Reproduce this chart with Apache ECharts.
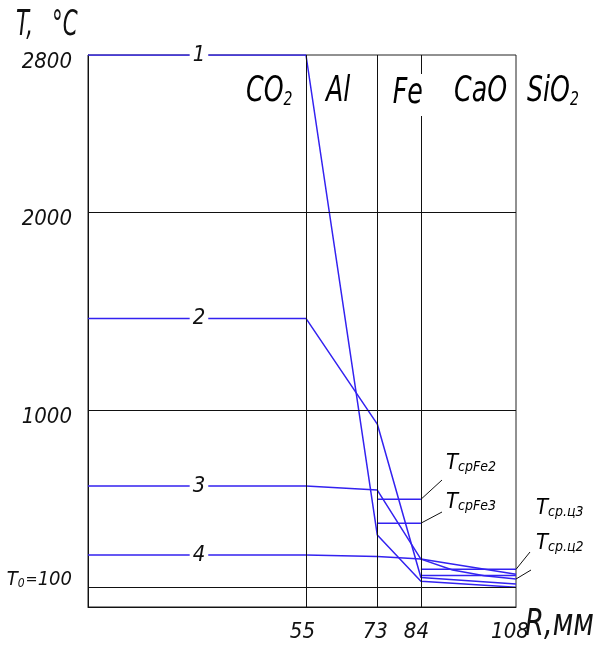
<!DOCTYPE html>
<html>
<head>
<meta charset="utf-8">
<script src="https://cdn.jsdelivr.net/npm/echarts@6/dist/echarts.min.js"></script>
<style>
html, body { margin: 0; padding: 0; background: #fff; }
#chart { width: 597px; height: 645px; }
</style>
</head>
<body>
<div id="chart"></div>
<script>
// layer boundaries, R in mm
let layer_bounds = [55, 73, 84];
let x_ticks = [55, 73, 84, 108];
let y_ticks = [100, 1000, 2000, 2800];
let grid_temps = [100, 1000, 2000];

// temperature profiles T(R), deg C
let r_points = [0, 55, 73, 84, 108];
let line1 = [2800, 2800, 365, 131, 100];
let line2 = [1464, 1464, 928, 150, 117];
let line4 = [264, 264, 256, 243, 166];
let line3_r = [0, 55, 73, 84, 92, 100, 108];
let line3 = [614, 614, 593, 243, 188, 159, 142];

// mean temperatures per layer
let fe_r = [73, 84];
let cao_r = [84, 108];
let t_fe2 = 546;
let t_fe3 = 425;
let t_c3 = 191;
let t_c2 = 160;

let curve_names = ['1', '2', '3', '4'];
let label_r = 28;

const FONT = "'DejaVu Sans Condensed', 'DejaVu Sans', sans-serif";
const BLUE = '#3322f0';

function zip(xs, ys) {
    return xs.map(function(x, i){ return [x, ys[i]]; });
}

function flat(xs, y) {
    return xs.map(function(x){ return [x, y]; });
}

function curveSeries(name, data, label_t) {
    return {
        name: name,
        type: 'line',
        data: data,
        symbol: 'none',
        z: 3,
        lineStyle: { color: BLUE, width: 1.5 },
        markPoint: {
            symbol: 'circle',
            symbolSize: 0,
            data: [{ coord: [label_r, label_t] }],
            label: {
                show: true,
                formatter: name,
                position: 'inside',
                color: '#111',
                fontFamily: FONT,
                fontStyle: 'italic',
                fontSize: 22,
                backgroundColor: '#fff',
                padding: [0, 3]
            }
        }
    };
}

function meanSeries(xs, t) {
    return {
        type: 'line',
        data: flat(xs, t),
        symbol: 'none',
        z: 3,
        lineStyle: { color: BLUE, width: 1.5 }
    };
}

function tickStyle(pad) {
    return { fontFamily: FONT, fontStyle: 'italic', fontSize: 22, color: '#111', padding: pad };
}

function drawChart(){
    let my_chart = echarts.init(document.getElementById('chart'));

    let sub_rich = {
        m: { fontFamily: FONT, fontStyle: 'italic', fontSize: 36, color: '#111' },
        s: { fontFamily: FONT, fontStyle: 'italic', fontSize: 20, color: '#111', verticalAlign: 'bottom', padding: [14, 0, 0, 0] },
        t: { fontFamily: FONT, fontStyle: 'italic', fontSize: 22, color: '#111' },
        u: { fontFamily: FONT, fontStyle: 'italic', fontSize: 14, color: '#111', padding: [8, 0, 0, 0] }
    };
    let big = { fontFamily: FONT, fontStyle: 'italic', fill: '#111' };

    let grid_lines = grid_temps.map(function(t){ return { yAxis: t }; })
        .concat(layer_bounds.map(function(r){ return { xAxis: r }; }));

    let option = {
        animation: false,
        grid: {
            left: 88,
            right: 81,
            top: 55,
            bottom: 38,
            outerBoundsMode: 'none',
            containLabel: false,
            show: true,
            borderColor: '#222',
            borderWidth: 1
        },
        xAxis: {
            type: 'value',
            min: 0,
            max: 108,
            axisLine: { show: true, lineStyle: { color: '#111' } },
            axisTick: { show: false },
            splitLine: { show: false },
            axisLabel: {
                customValues: x_ticks,
                margin: 14,
                formatter: function(v){
                    let key = { 55: 'a', 73: 'b', 84: 'c', 108: 'd' }[v];
                    return '{' + key + '|' + v + '}';
                },
                rich: {
                    a: tickStyle([0, 7, 0, 0]),
                    b: tickStyle([0, 4, 0, 0]),
                    c: tickStyle([0, 9, 0, 0]),
                    d: tickStyle([0, 12, 0, 0])
                }
            }
        },
        yAxis: {
            type: 'value',
            min: 0,
            max: 2800,
            axisLine: { show: true, lineStyle: { color: '#111' } },
            axisTick: { show: false },
            splitLine: { show: false },
            axisLabel: {
                customValues: y_ticks,
                margin: 16,
                formatter: function(v){
                    if (v === 100) return '{t|T}{u|0}{e|=}{t|100}';
                    return '{n|' + v + '}';
                },
                rich: {
                    n: tickStyle([14, 0, 0, 0]),
                    t: { fontFamily: FONT, fontStyle: 'italic', fontSize: 20, color: '#111', padding: [0, 0, 14, 0] },
                    e: { fontFamily: FONT, fontStyle: 'italic', fontSize: 16, color: '#111', padding: [0, 0, 14, 0] },
                    u: { fontFamily: FONT, fontStyle: 'italic', fontSize: 12, color: '#111', padding: [0, 1, 6, 0] }
                }
            }
        },
        graphic: [
            { type: 'text', x: 16, y: 8, scaleX: 0.66, z: 10, style: Object.assign({ text: 'T,', fontSize: 36 }, big) },
            { type: 'text', x: 52, y: 8, scaleX: 0.66, z: 10, style: Object.assign({ text: '°C', fontSize: 36 }, big) },
            { type: 'text', x: 246, y: 74, scaleX: 0.78, z: 10, style: { text: '{m|CO}{s|2}', rich: sub_rich } },
            { type: 'text', x: 326, y: 74, scaleX: 0.78, z: 10, style: { text: '{m|Al}', rich: sub_rich } },
            { type: 'text', x: 392, y: 74, scaleX: 0.78, z: 10, style: { text: '{m|Fe}', rich: sub_rich, backgroundColor: '#fff', padding: [2, 1, 4, 1] } },
            { type: 'text', x: 454, y: 74, scaleX: 0.78, z: 10, style: { text: '{m|CaO}', rich: sub_rich } },
            { type: 'text', x: 527, y: 74, scaleX: 0.78, z: 10, style: { text: '{m|SiO}{s|2}', rich: sub_rich } },
            { type: 'text', left: 446, top: 452, z: 10, style: { text: '{t|T}{u|срFe2}', rich: sub_rich } },
            { type: 'text', left: 446, top: 491, z: 10, style: { text: '{t|T}{u|срFe3}', rich: sub_rich } },
            { type: 'text', left: 536, top: 497, z: 10, style: { text: '{t|T}{u|ср.ц3}', rich: sub_rich } },
            { type: 'text', left: 536, top: 532, z: 10, style: { text: '{t|T}{u|ср.ц2}', rich: sub_rich } },
            { type: 'text', x: 525, y: 606, scaleX: 0.8, z: 10, style: Object.assign({ text: 'R,мм', fontSize: 38 }, big) }
        ],
        series: [
            {
                name: 'frame',
                type: 'line',
                data: [],
                z: 1,
                markLine: {
                    silent: true,
                    symbol: 'none',
                    label: { show: false },
                    lineStyle: { color: '#111', width: 1, type: 'solid' },
                    data: grid_lines
                }
            },
            curveSeries(curve_names[0], zip(r_points, line1), line1[0]),
            curveSeries(curve_names[1], zip(r_points, line2), line2[0]),
            curveSeries(curve_names[2], zip(line3_r, line3), line3[0]),
            curveSeries(curve_names[3], zip(r_points, line4), line4[0]),
            meanSeries(fe_r, t_fe2),
            meanSeries(fe_r, t_fe3),
            meanSeries(cao_r, t_c3),
            meanSeries(cao_r, t_c2),
            {
                name: 'leaders',
                type: 'line',
                data: [],
                z: 4,
                markLine: {
                    silent: true,
                    symbol: 'none',
                    label: { show: false },
                    lineStyle: { color: '#111', width: 1, type: 'solid' },
                    data: [
                        [{ coord: [fe_r[1], t_fe2] }, { x: 442, y: 480 }],
                        [{ coord: [fe_r[1], t_fe3] }, { x: 442, y: 512 }],
                        [{ coord: [cao_r[1], t_c3] }, { x: 530, y: 552 }],
                        [{ coord: [cao_r[1], line3[line3.length - 1]] }, { x: 531, y: 570 }]
                    ]
                }
            }
        ]
    };

    my_chart.setOption(option);
}

drawChart();
</script>
</body>
</html>
